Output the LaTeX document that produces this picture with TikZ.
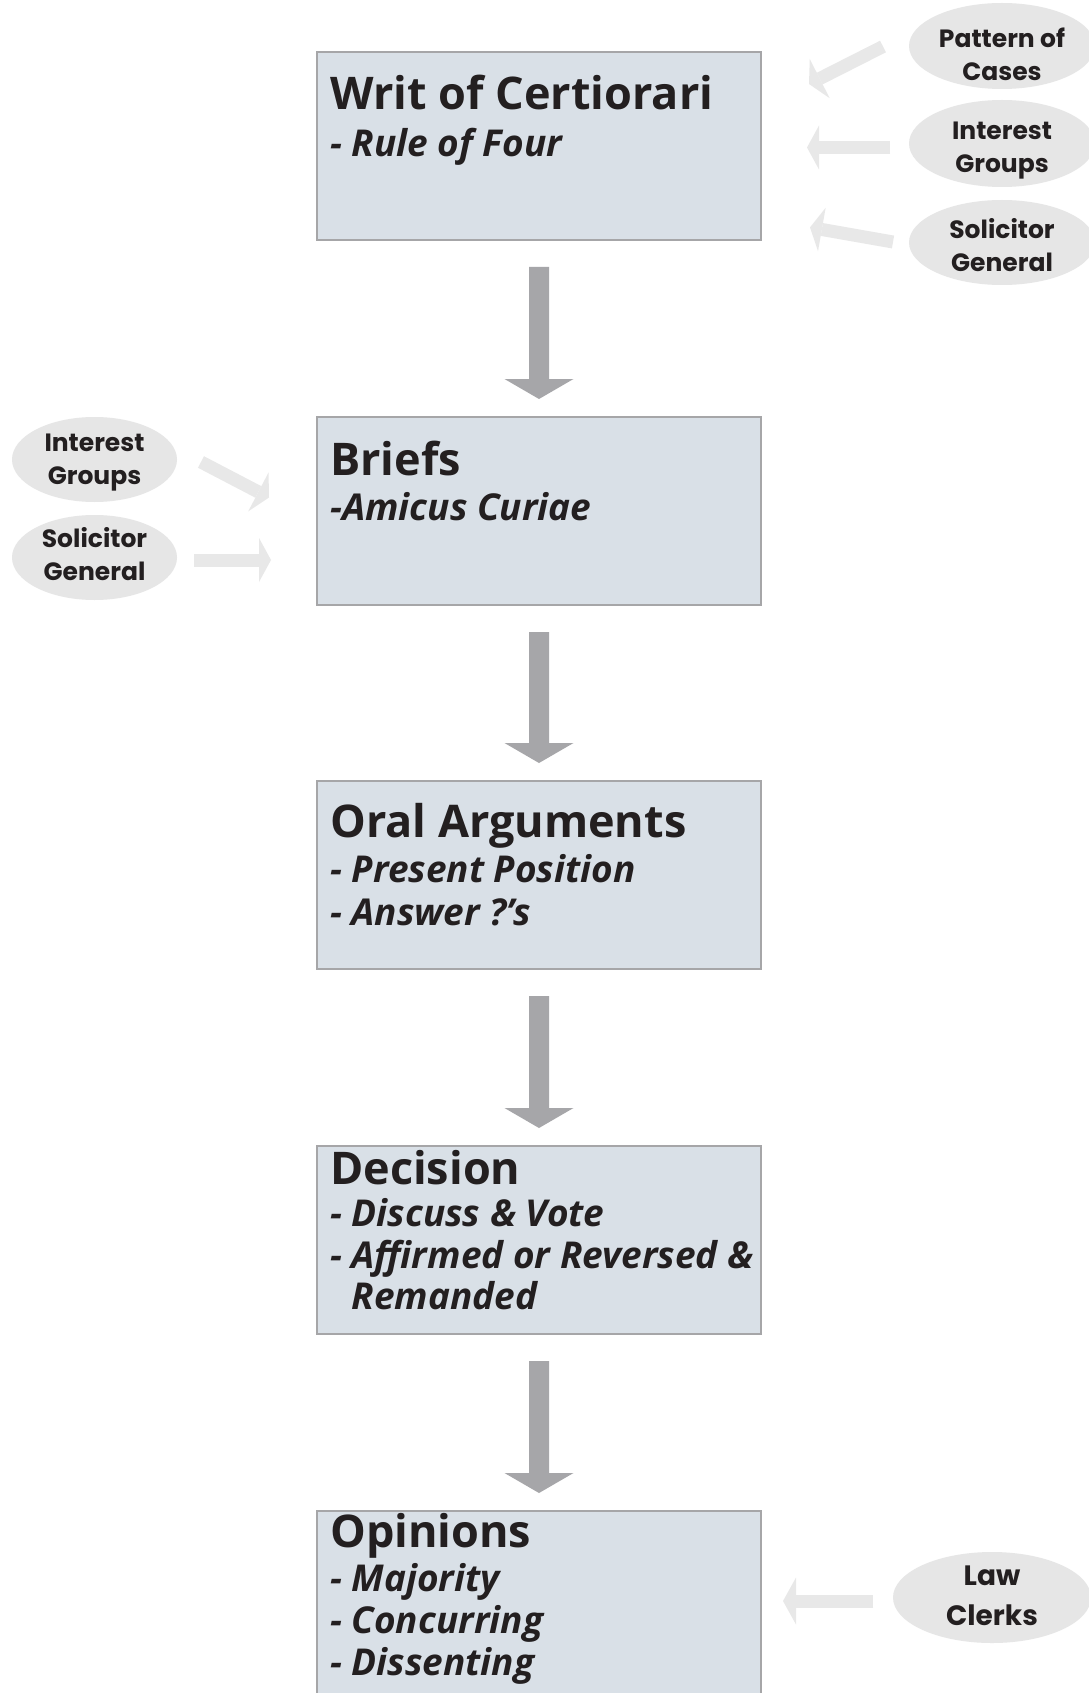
\documentclass[tikz,border=0pt]{standalone}
\usepackage{fontspec}
\setmainfont{Open Sans}
\newfontfamily\ellfont{Poppins}
\usetikzlibrary{calc,shapes.geometric,arrows.meta}
\definecolor{boxfill}{RGB}{217,224,231}
\definecolor{boxline}{RGB}{166,166,168}
\definecolor{darkarr}{RGB}{166,166,169}
\definecolor{lightarr}{RGB}{232,232,232}
\definecolor{ellfill}{RGB}{230,230,230}
\definecolor{txt}{RGB}{35,31,32}
\newcommand{\flowarrow}[2]{%
  \fill[flow] ($(#1.south)+(-10,27)$) -- ($(#2.north)+(-10,-38)$) -- ($(#2.north)+(-34.5,-38)$) -- ($(#2.north)+(0,-18)$) -- ($(#2.north)+(34.5,-38)$) -- ($(#2.north)+(10,-38)$) -- ($(#1.south)+(10,27)$) -- cycle;}
\begin{document}
\begin{tikzpicture}[x=1pt,y=-1pt,
  stepbox/.style={draw=boxline, line width=1.2pt, fill=boxfill, minimum width=444pt, minimum height=188pt, anchor=north west, inner sep=0pt, outer sep=0pt},
  ttl/.style={anchor=base west, inner sep=0pt, text=txt, font=\fontsize{45}{48}\selectfont\bfseries},
  sub/.style={anchor=base west, inner sep=0pt, text=txt, font=\fontsize{37}{42}\selectfont\bfseries\itshape},
  oval/.style={ellipse, fill=ellfill, inner sep=0pt},
  ovtxt/.style={align=center, text=txt, inner sep=0pt, font=\ellfont\fontsize{25}{33}\selectfont\bfseries},
  flow/.style={fill=darkarr},
  feed/.style={draw=lightarr, line width=13pt, -{Triangle[length=12pt,width=44pt,line width=0pt]}},
]
\useasboundingbox (0,0) rectangle (1088,1693);
\fill[white] (0,0) rectangle (1088,1693);

% boxes
\node[stepbox] (b1) at (317,52) {};
\node[stepbox] (b2) at (317,417) {};
\node[stepbox] (b3) at (317,781) {};
\node[stepbox] (b4) at (317,1146) {};
\node[stepbox] (b5) at (317,1511) {};

% box texts
\node[ttl] (t1) at (330,110) {Writ of Certiorari};
\node[sub] (s1) at (330,157) {- Rule of Four};
\node[ttl] (t2) at (330,475) {Briefs};
\node[sub] (s2) at (330,520) {-Amicus Curiae};
\node[ttl] (t3) at (330,837) {Oral Arguments};
\node[sub] (s3a) at (330,882) {- Present Position};
\node[sub] (s3b) at (330,925) {- Answer ?’s};
\node[ttl] (t4) at (330,1184) {Decision};
\node[sub] (s4a) at (330,1226) {- Discuss \& Vote};
\node[sub] (s4b) at (330,1268) {- Affirmed or Reversed \&};
\node[sub] (s4c) at (330,1309) {\phantom{- }Remanded};
\node[ttl] (t5) at (330,1547) {Opinions};
\node[sub] (s5a) at (330,1591) {- Majority};
\node[sub] (s5b) at (330,1633) {- Concurring};
\node[sub] (s5c) at (330,1675) {- Dissenting};

% flow arrows
\flowarrow{b1}{b2}
\flowarrow{b2}{b3}
\flowarrow{b3}{b4}
\flowarrow{b4}{b5}

% ellipses
\node[oval, minimum width=186pt, minimum height=86pt] (pc) at (1002,46) {};
\node[ovtxt] (pct) at (1002,54) {Pattern of\\Cases};
\node[oval, minimum width=186pt, minimum height=87pt] (igr) at (1002,143.5) {};
\node[ovtxt] (igrt) at (1002,151) {Interest\\Groups};
\node[oval, minimum width=186pt, minimum height=85pt] (sgr) at (1002,242.5) {};
\node[ovtxt] (sgrt) at (1002,245) {Solicitor\\General};
\node[oval, minimum width=165pt, minimum height=85pt] (igl) at (94.5,459.5) {};
\node[ovtxt] (iglt) at (94.5,463) {Interest\\Groups};
\node[oval, minimum width=165pt, minimum height=85pt] (sgl) at (94.5,557.5) {};
\node[ovtxt] (sglt) at (94.5,554) {Solicitor\\General};
\node[oval, minimum width=198pt, minimum height=91pt] (lc) at (992,1597.5) {};
\node[ovtxt, font=\ellfont\fontsize{28}{40}\selectfont\bfseries] (lct) at (992,1596) {Law\\Clerks};

% feed arrows
\coordinate (f1s) at (883,46.5);  \coordinate (f1e) at (809,84);
\coordinate (f2s) at (890,147.5); \coordinate (f2e) at (807,147.5);
\coordinate (f3s) at (893,242);   \coordinate (f3e) at (810,227.4);
\coordinate (f4s) at (201,462);   \coordinate (f4e) at (269,497.5);
\coordinate (f5s) at (194,560);   \coordinate (f5e) at (271,560);
\coordinate (f6s) at (873,1601);  \coordinate (f6e) at (783,1601);
\draw[feed] (f1s) -- (f1e);
\draw[feed] (f2s) -- (f2e);
\draw[feed] (f3s) -- (f3e);
\draw[feed] (f4s) -- (f4e);
\draw[feed] (f5s) -- (f5e);
\draw[feed, -{Triangle[length=13pt,width=47pt,line width=0pt]}] (f6s) -- (f6e);
\end{tikzpicture}
\end{document}
